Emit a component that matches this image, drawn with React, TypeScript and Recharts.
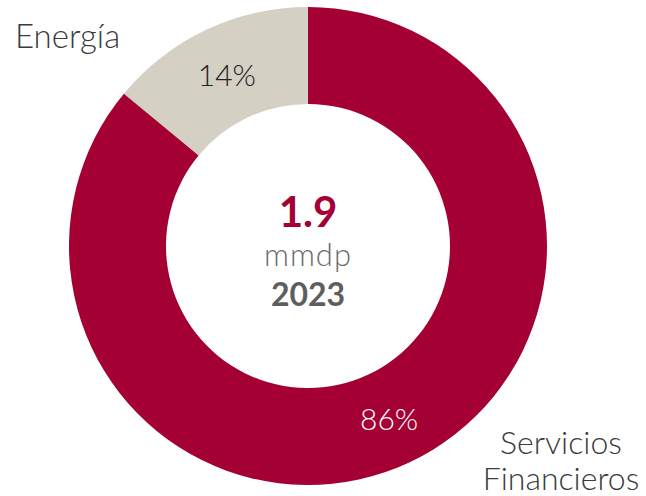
import { PieChart, Pie, Cell } from "recharts";

const sectors = ["Energía", "Servicios Financieros"];
const shares = [14, 86];
const nameLines = [["Energía"], ["Servicios", "Financieros"]];
const totalValue = "1.9";
const totalUnit = "mmdp";
const totalYear = "2023";

const COLORS = ["#d4d0c4", "#a50034"];
const PCT_COLORS = ["#222222", "#ffffff"];
const FONT = "Lato, 'Noto Sans', sans-serif";

const data = sectors.map((name, i) => ({ name, value: shares[i] }));

const RAD = Math.PI / 180;

function renderLabel(props: any) {
  const { cx, cy, midAngle, innerRadius, outerRadius, index, value } = props;
  const r = (innerRadius + outerRadius) / 2;
  const x = cx + r * Math.cos(-midAngle * RAD);
  const y = cy + r * Math.sin(-midAngle * RAD);
  // outside category names + centre total (drawn once)
  const extra =
    index === 0 ? (
      <g>
        <text x={cx - 293} y={cy - 198} fill="#3a3a3a" fontSize={33} fontFamily={FONT} fontWeight={300}>
          {nameLines[0][0]}
        </text>
        <g fontFamily={FONT} textAnchor="middle">
          <text x={cx} y={cy - 19} fill="#a50034" fontSize={42} fontWeight={700}>
            {totalValue}
          </text>
          <text x={cx} y={cy + 20} fill="#6b6b6b" fontSize={31} fontWeight={300} letterSpacing={1}>
            {totalUnit}
          </text>
          <text x={cx} y={cy + 60} fill="#5e5e5e" fontSize={32} fontWeight={700}>
            {totalYear}
          </text>
        </g>
      </g>
    ) : (
      <text x={cx + 253} y={cy + 208} fill="#3a3a3a" fontSize={32} fontFamily={FONT} fontWeight={300} textAnchor="middle">
        <tspan x={cx + 253}>{nameLines[1][0]}</tspan>
        <tspan x={cx + 253} dy={36}>{nameLines[1][1]}</tspan>
      </text>
    );
  return (
    <g>
      <text
        x={x}
        y={y}
        fill={PCT_COLORS[index]}
        fontSize={30}
        fontFamily={FONT}
        fontWeight={300}
        textAnchor="middle"
        dominantBaseline="central"
      >
        {`${value}%`}
      </text>
      {extra}
    </g>
  );
}

export default function App() {
  return (
    <div style={{ position: "absolute", left: 0, top: 0, width: 646, height: 496 }}>
      <PieChart width={646} height={496} margin={{ top: 0, right: 0, bottom: 0, left: 0 }}>
        <Pie
          data={data}
          dataKey="value"
          nameKey="name"
          cx={308}
          cy={246}
          innerRadius={142}
          outerRadius={239}
          startAngle={90}
          endAngle={450}
          stroke="none"
          label={renderLabel}
          labelLine={false}
          isAnimationActive={false}
        >
          {data.map((d, i) => (
            <Cell key={d.name} fill={COLORS[i]} />
          ))}
        </Pie>
      </PieChart>
    </div>
  );
}
